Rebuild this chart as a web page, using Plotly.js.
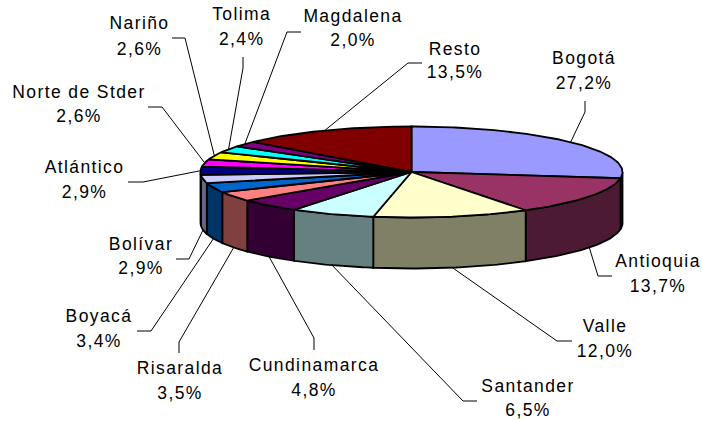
<!DOCTYPE html>
<html>
<head>
<meta charset="utf-8">
<script src="https://cdn.plot.ly/plotly-3.0.1.min.js"></script>
<style>
html,body{margin:0;padding:0;background:#fff}
#chart{width:702px;height:421px}
#chart text{letter-spacing:1.4px}
</style>
</head>
<body>
<div id="chart"></div>
<script>
const categories = ["Bogotá","Antioquia","Valle","Santander","Cundinamarca","Risaralda","Boyacá","Bolívar","Atlántico","Norte de Stder","Nariño","Tolima","Magdalena","Resto"];
const shares = [27.2,13.7,12.0,6.5,4.8,3.5,3.4,2.9,2.9,2.6,2.6,2.4,2.0,13.5];
const topColors = ["#9999FF","#993366","#FFFFCC","#CCFFFF","#660066","#FF8080","#0066CC","#CCCCFF","#000080","#FF00FF","#FFFF00","#00FFFF","#800080","#800000"];
const sideColors = ["#4D4D80","#4D1A33","#808066","#668080","#330033","#804040","#003366","#666680","#000040","#800080","#808000","#008080","#400040","#400000"];

const labelX = [584,658,605,528,314,180,99,141,84.5,79,139.5,241.7,353,455];
const nameY = [60,263,328,388,367,370,318,246,169,94,25,15.7,18,51];
const pctY = [85,288,353,412,392,395,343,270,194,118,51,41,42,74];
const leaderElbows = [
  [[585,101],[585,112]],[[612,276],[598,276]],[[572,341],[557,341]],[[477,401],[463,401]],
  [[314,350],[314,338]],[[179,353],[179,342]],[[137,331],[151,331]],[[176,259],[189,259]],
  [[128,182],[143,182]],[[148,107],[162,107]],[[172,38],[185,38]],[[243,57],[243,68]],
  [[301,32],[287,32]],[[422,63],[408,63]]
];

const cx = 411.5, cy = 172, rx = 211, ry = 45.5, depth = 51;
const rad = d => d * Math.PI / 180;
const rim = (deg, drop) => [cx + rx * Math.sin(rad(deg)), cy - ry * Math.cos(rad(deg)) + drop];
const total = shares.reduce((a, b) => a + b, 0);
let run = 0;
const spans = shares.map(v => { const s = run; run += v; return [s / total * 360, run / total * 360]; });

function arc(a, b, drop) {
  const pts = [];
  const n = Math.max(2, Math.ceil(Math.abs(b - a)));
  for (let i = 0; i <= n; i++) pts.push(rim(a + (b - a) * i / n, drop));
  return pts;
}
function poly(pts, fill, width) {
  return {type:'scatter', mode:'lines', x:pts.map(p => p[0]), y:pts.map(p => p[1]),
    fill:'toself', fillcolor:fill, line:{color:'#000', width:width}, hoverinfo:'skip', showlegend:false};
}

const traces = [];
categories.forEach((c, i) => {
  const mid = (spans[i][0] + spans[i][1]) / 2;
  const anchor = rim(mid, (mid > 90 && mid < 270) ? depth : 0);
  const pts = leaderElbows[i].concat([anchor]);
  traces.push({type:'scatter', mode:'lines', x:pts.map(p => p[0]), y:pts.map(p => p[1]),
    line:{color:'#000', width:1}, hoverinfo:'skip', showlegend:false});
});
spans.forEach((s, i) => {
  const a = Math.max(s[0], 90), b = Math.min(s[1], 270);
  if (b <= a) return;
  const pts = arc(a, b, 0).concat(arc(b, a, depth));
  pts.push(pts[0]);
  traces.push(poly(pts, sideColors[i], 1.8));
});
spans.forEach((s, i) => {
  const pts = [[cx, cy]].concat(arc(s[0], s[1], 0));
  pts.push([cx, cy]);
  traces.push(poly(pts, topColors[i], 1.8));
});
const font = {family:'"Liberation Sans", Arial, sans-serif', size:17.5, color:'#000'};
traces.push({type:'scatter', mode:'text', x:labelX, y:nameY, text:categories,
  textposition:'middle center', textfont:font, hoverinfo:'skip', showlegend:false, cliponaxis:false});
traces.push({type:'scatter', mode:'text', x:labelX, y:pctY,
  text:shares.map(v => v.toFixed(1).replace('.', ',') + '%'),
  textposition:'middle center', textfont:font, hoverinfo:'skip', showlegend:false, cliponaxis:false});

const hidden = {visible:false, fixedrange:true};
Plotly.newPlot('chart', traces, {
  width:702, height:421, margin:{l:0,r:0,t:0,b:0},
  paper_bgcolor:'#fff', plot_bgcolor:'#fff',
  xaxis:Object.assign({range:[0,702]}, hidden),
  yaxis:Object.assign({range:[421,0]}, hidden),
  showlegend:false
}, {displayModeBar:false, staticPlot:true});
</script>
</body>
</html>
